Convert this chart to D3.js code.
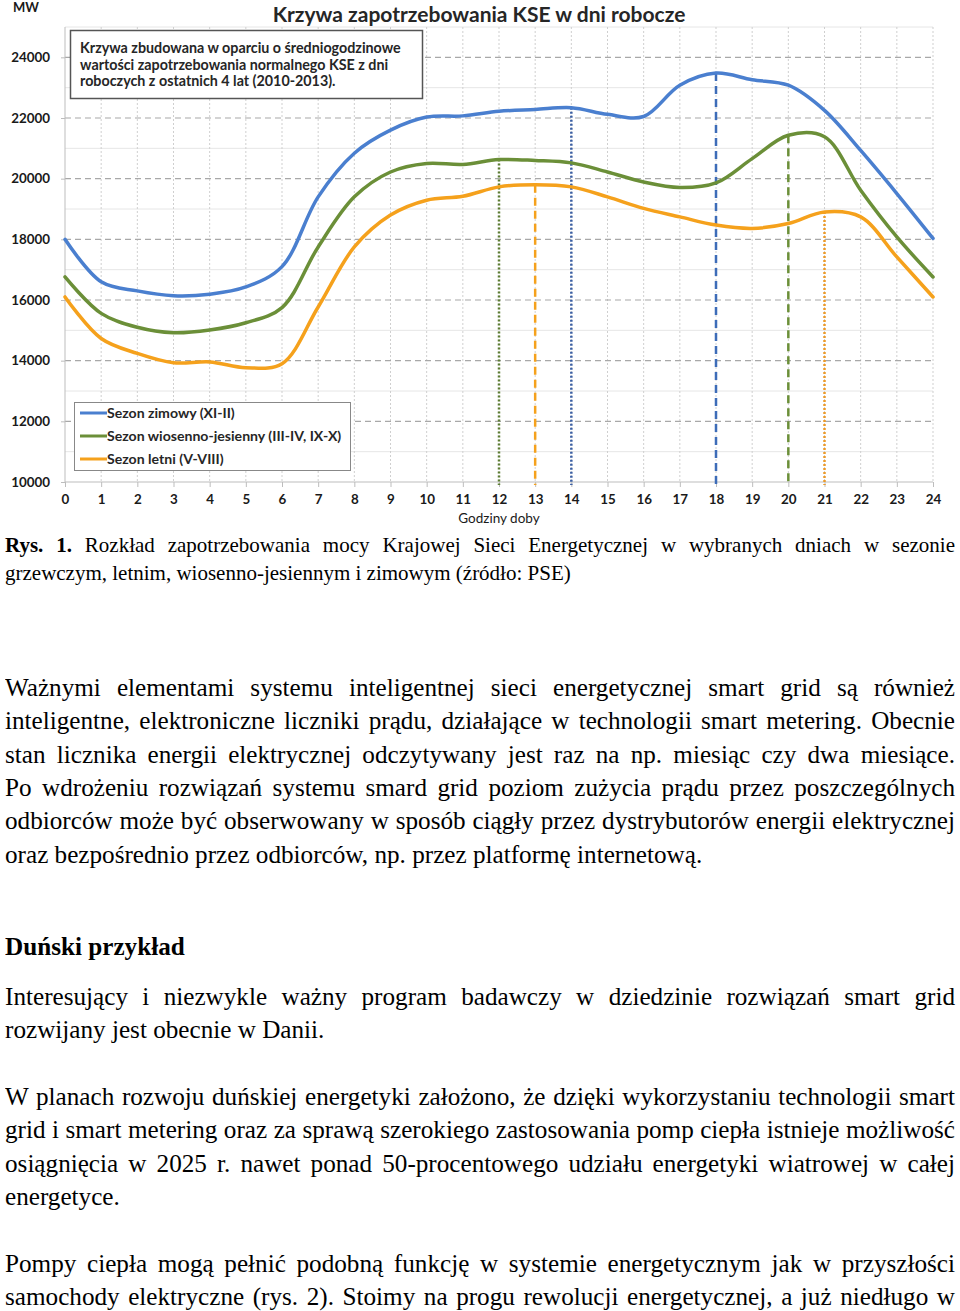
<!DOCTYPE html>
<html>
<head>
<meta charset="utf-8">
<script src="https://cdn.jsdelivr.net/npm/d3@7/dist/d3.min.js"></script>
<style>
  html, body { margin: 0; padding: 0; background: #fff; }
  body { width: 960px; height: 1311px; position: relative; overflow: hidden; }
  #chart { position: absolute; left: 0; top: 0; }
  .ln { position: absolute; left: 5px; white-space: nowrap; color: #000;
        font-family: "Liberation Serif", "Times New Roman", serif; transform-origin: 0 50%; }
  .j { text-align: justify; text-align-last: justify; white-space: normal; }
</style>
</head>
<body>
<svg id="chart" width="960" height="530"></svg>
<div id="text"></div>
<script>
// ---------- DATA ----------
const hours = [0,1,2,3,4,5,6,7,8,9,10,11,12,13,14,15,16,17,18,19,20,21,22,23,24];
const winter = [18000,16600,16300,16140,16190,16430,17100,19400,20840,21600,22030,22070,22220,22280,22340,22120,22050,23080,23480,23260,23080,22250,20930,19510,18030];
const spring = [16760,15560,15100,14920,15010,15250,15750,17750,19400,20220,20500,20470,20630,20600,20520,20220,19890,19710,19860,20660,21430,21380,19620,18080,16760];
const summer = [16100,14730,14240,13930,13960,13770,13900,15770,17750,18800,19290,19420,19730,19800,19730,19400,19020,18740,18470,18360,18520,18900,18740,17420,16100];
const seriesNames = ["Sezon zimowy (XI-II)", "Sezon wiosenno-jesienny (III-IV, IX-X)", "Sezon letni (V-VIII)"];
const seriesColors = ["#4a7fcf", "#6b8f38", "#f5a11c"];
const yTicks = [10000,12000,14000,16000,18000,20000,22000,24000];
const yMinor = [11000,13000,15000,17000,19000,21000,23000,25000];
// drop lines: hour, series index, style
const dropHours = [12, 13, 14, 18, 20, 21];
const dropSeries = [1, 2, 0, 0, 1, 2];
const dropStyles = ["dot", "dash", "dot", "dash", "dash", "dot"];
const dropColors = ["#5d7d33", "#f5a11c", "#3b5fa3", "#3d6cb8", "#6b8f38", "#ec9a2a"];
const titleText = "Krzywa zapotrzebowania KSE w dni robocze";
const infoLines = ["Krzywa zbudowana w oparciu o średniogodzinowe",
  "wartości zapotrzebowania normalnego KSE z dni",
  "roboczych z ostatnich 4 lat (2010-2013)."];
const yLabel = "MW";
const xLabel = "Godziny doby";

// ---------- CHART ----------
const svg = d3.select("#chart");
const x = d3.scaleLinear().domain([0, 24]).range([65, 933]);
const y = d3.scaleLinear().domain([10000, 25000]).range([482, 27]);
const font = "Lato, 'Open Sans', sans-serif";
const allSeries = [winter, spring, summer];

// minor horizontal grid
svg.append("g").selectAll("line").data(yMinor).join("line")
  .attr("x1", x(0)).attr("x2", x(24)).attr("y1", d => y(d)).attr("y2", d => y(d))
  .attr("stroke", "#e6e6e6").attr("stroke-width", 1);
// vertical dotted grid
svg.append("g").selectAll("line").data(hours.slice(1)).join("line")
  .attr("x1", d => x(d)).attr("x2", d => x(d)).attr("y1", y(25000)).attr("y2", y(10000))
  .attr("stroke", "#cfcfcf").attr("stroke-width", 1).attr("stroke-dasharray", "2,2");
// major horizontal dashed grid
svg.append("g").selectAll("line").data(yTicks.slice(1)).join("line")
  .attr("x1", x(0)).attr("x2", x(24)).attr("y1", d => y(d)).attr("y2", d => y(d))
  .attr("stroke", "#a8a8a8").attr("stroke-width", 1.2).attr("stroke-dasharray", "6,4");

// axes
const yAxis = svg.append("g").attr("transform", `translate(${x(0)},0)`)
  .call(d3.axisLeft(y).tickValues(yTicks).tickSize(4).tickPadding(11).tickFormat(d3.format("d")));
yAxis.select(".domain").attr("stroke", "#bdbdbd").attr("d", `M0,${y(25000)}V${y(10000)}`);
yAxis.selectAll(".tick line").attr("stroke", "#bdbdbd");
yAxis.selectAll("text").attr("font-family", font).attr("font-weight", "bold").attr("font-size", 13.4).attr("fill", "#1a1a1a");

const xAxis = svg.append("g").attr("transform", `translate(0,${y(10000)})`)
  .call(d3.axisBottom(x).tickValues(hours).tickSize(5).tickPadding(7).tickFormat(d3.format("d")));
xAxis.select(".domain").attr("stroke", "#bdbdbd").attr("d", `M${x(0)},0H${x(24)}`);
xAxis.selectAll(".tick line").attr("stroke", "#bdbdbd");
xAxis.selectAll("text").attr("font-family", font).attr("font-weight", "bold").attr("font-size", 13.4).attr("fill", "#1a1a1a");

// drop lines
svg.append("g").selectAll("line").data(dropHours).join("line")
  .attr("x1", d => x(d)).attr("x2", d => x(d))
  .attr("y1", (d, i) => y(allSeries[dropSeries[i]][hours.indexOf(d)]))
  .attr("y2", y(10000) + 3)
  .attr("stroke", (d, i) => dropColors[i])
  .attr("stroke-width", 2.5)
  .attr("stroke-dasharray", (d, i) => dropStyles[i] === "dash" ? "8,5" : "2,2");

// curves
const line = d3.line().x((d, i) => x(hours[i])).y(d => y(d)).curve(d3.curveCatmullRom.alpha(0.5));
svg.append("g").selectAll("path").data(allSeries).join("path")
  .attr("d", d => line(d)).attr("fill", "none")
  .attr("stroke", (d, i) => seriesColors[i]).attr("stroke-width", 3.5)
  .attr("stroke-linecap", "round").attr("stroke-linejoin", "round");

// title
svg.append("text").attr("x", 479).attr("y", 22).attr("text-anchor", "middle")
  .attr("font-family", font).attr("font-weight", "bold").attr("font-size", 21).attr("fill", "#262626")
  .text(titleText);
// axis labels
svg.append("text").attr("x", 13).attr("y", 12).attr("font-family", font).attr("font-weight", "bold")
  .attr("font-size", 13).attr("fill", "#1a1a1a").text(yLabel);
svg.append("text").attr("x", 499).attr("y", 523).attr("text-anchor", "middle").attr("font-family", font)
  .attr("font-size", 13.5).attr("fill", "#1a1a1a").text(xLabel);

// info box
const info = svg.append("g");
info.append("rect").attr("x", 70.5).attr("y", 30.5).attr("width", 352).attr("height", 68)
  .attr("fill", "#fff").attr("stroke", "#555").attr("stroke-width", 1.5);
info.selectAll("text").data(infoLines).join("text")
  .attr("x", 80).attr("y", (d, i) => 53 + i * 16.5)
  .attr("font-family", font).attr("font-weight", "bold").attr("font-size", 14.3).attr("fill", "#262626")
  .text(d => d);

// legend
const leg = svg.append("g");
leg.append("rect").attr("x", 74.5).attr("y", 402.5).attr("width", 276).attr("height", 68)
  .attr("fill", "#fff").attr("stroke", "#888").attr("stroke-width", 1);
const li = leg.selectAll("g").data(seriesNames).join("g")
  .attr("transform", (d, i) => `translate(0,${413 + i * 23})`);
li.append("line").attr("x1", 80).attr("x2", 107).attr("y1", 0).attr("y2", 0)
  .attr("stroke", (d, i) => seriesColors[i]).attr("stroke-width", 3);
li.append("text").attr("x", 107).attr("y", 5).attr("font-family", font).attr("font-weight", "bold")
  .attr("font-size", 14.1).attr("fill", "#262626").text(d => d);

// ---------- TEXT BELOW ----------
const textBlocks = [
  { size: 21, sx: 1.0, lh: 28, lines: [
    {y: 545, html: "<b>Rys. 1.</b> Rozkład zapotrzebowania mocy Krajowej Sieci Energetycznej w wybranych dniach w sezonie", j: true},
    {y: 573, html: "grzewczym, letnim, wiosenno-jesiennym i zimowym (źródło: PSE)", j: false}]},
  { size: 26, sx: 0.968, lh: 33, lines: [
    {y: 687, html: "Ważnymi elementami systemu inteligentnej sieci energetycznej smart grid są również", j: true},
    {y: 720, html: "inteligentne, elektroniczne liczniki prądu, działające w technologii smart metering. Obecnie", j: true},
    {y: 754, html: "stan licznika energii elektrycznej odczytywany jest raz na np. miesiąc czy dwa miesiące.", j: true},
    {y: 787, html: "Po wdrożeniu rozwiązań systemu smard grid poziom zużycia prądu przez poszczególnych", j: true},
    {y: 820, html: "odbiorców może być obserwowany w sposób ciągły przez dystrybutorów energii elektrycznej", j: true},
    {y: 854, html: "oraz bezpośrednio przez odbiorców, np. przez platformę internetową.", j: false},
    {y: 946, html: "<b>Duński przykład</b>", j: false},
    {y: 996, html: "Interesujący i niezwykle ważny program badawczy w dziedzinie rozwiązań smart grid", j: true},
    {y: 1029, html: "rozwijany jest obecnie w Danii.", j: false},
    {y: 1096, html: "W planach rozwoju duńskiej energetyki założono, że dzięki wykorzystaniu technologii smart", j: true},
    {y: 1129, html: "grid i smart metering oraz za sprawą szerokiego zastosowania pomp ciepła istnieje możliwość", j: true},
    {y: 1163, html: "osiągnięcia w 2025 r. nawet ponad 50-procentowego udziału energetyki wiatrowej w całej", j: true},
    {y: 1196, html: "energetyce.", j: false},
    {y: 1263, html: "Pompy ciepła mogą pełnić podobną funkcję w systemie energetycznym jak w przyszłości", j: true},
    {y: 1296, html: "samochody elektryczne (rys. 2). Stoimy na progu rewolucji energetycznej, a już niedługo w", j: true}]}
];
const tdiv = d3.select("#text");
textBlocks.forEach(b => {
  b.lines.forEach(l => {
    tdiv.append("div")
      .attr("class", "ln" + (l.j ? " j" : ""))
      .style("top", (l.y - b.lh / 2) + "px")
      .style("height", b.lh + "px")
      .style("line-height", b.lh + "px")
      .style("font-size", b.size + "px")
      .style("width", (950 / b.sx) + "px")
      .style("transform", `scaleX(${b.sx})`)
      .html(l.html);
  });
});
</script>
</body>
</html>
